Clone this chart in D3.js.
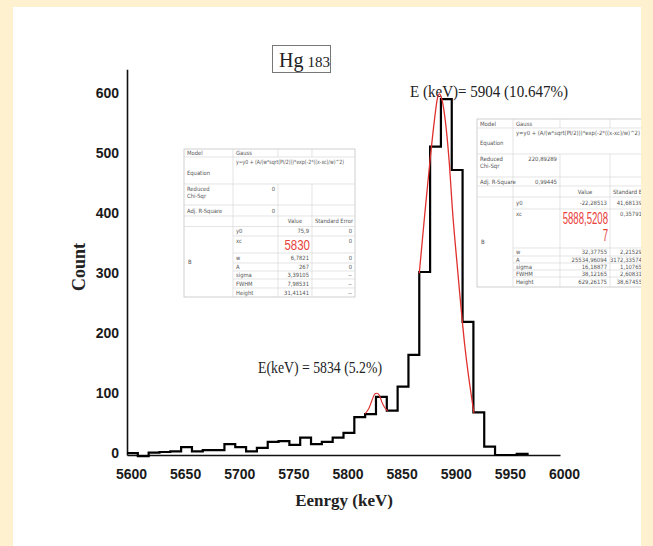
<!DOCTYPE html>
<html><head><meta charset="utf-8">
<script src="https://cdn.jsdelivr.net/npm/d3@7/dist/d3.min.js"></script>
<style>html,body{margin:0;padding:0;background:#fdf1cf;}svg{display:block}</style>
</head><body>
<svg id="c" width="653" height="546"></svg>
<script>
// ---------- data ----------
const binStarts = [5600,5610,5620,5630,5640,5650,5660,5670,5680,5690,5700,5710,5720,5730,5740,5750,5760,5770,5780,5790,5800,5810,5820,5830,5840,5850,5860,5870,5880,5890,5900,5910,5920,5930,5940,5950,5960];
const counts    = [3,-2,4,5,6,13,6,8,8,18,13,6,12,22,23,17,29,18,22,29,37,63,68,97,74,114,167,305,514,593,475,222,71,14,0,0,2];
const binWidth = 10;

const fitMainEnergy = [5870,5875,5880,5884,5886.5,5888.5,5891,5894,5897.5,5901,5905,5912,5920.5];
const fitMainCount  = [303,400,492,558,592,602,592,558,492,400,317,183,70];
const fitSmallEnergy = [5820,5823.5,5826.5,5829,5831,5833,5835.5,5838.5,5841];
const fitSmallCount  = [69,78,92,102,103,100,88,78,73];

const xTicks = [5600,5650,5700,5750,5800,5850,5900,5950,6000];
const yTicks = [0,100,200,300,400,500,600];

const titleMain = "Hg", titleNum = "183";
const xTitle = "Eenrgy (keV)", yTitle = "Count";
const peakLabelMain = "E (keV)= 5904 (10.647%)";
const peakLabelSmall = "E(keV) = 5834 (5.2%)";

const tableLabels = ["Model","Equation","Reduced\nChi-Sqr","Adj. R-Square"];
const modelName = "Gauss";
const equationText = "y=y0 + (A/(w*sqrt(PI/2)))*exp(-2*((x-xc)/w)^2)";
const headerCols = ["Value","Standard Error"];
const blockName = "B";
const paramNames = ["y0","xc","w","A","sigma","FWHM","Height"];
const leftStats = ["0","0"];
const leftValues = ["75,9","5830","6,7821","267","3,39105","7,98531","31,41141"];
const leftErrors = ["0","0","0","0","--","--","--"];
const rightStats = ["220,89289","0,99445"];
const rightValues = ["-22,28513","5888,5208\n7","32,37755","25534,96094","16,18877","38,12165","629,26175"];
const rightErrors = ["41,68139","0,35791","2,21529","3172,33574","1,10765","2,60831","38,67455"];

// ---------- layout ----------
const svg = d3.select("#c");
const SERIF = "'Liberation Serif','Times New Roman',serif";
const SANS = "'Liberation Sans',Arial,sans-serif";
const NARROW = "'Liberation Sans Narrow','DejaVu Sans Condensed','Liberation Sans',Arial,sans-serif";

svg.append("defs").append("clipPath").attr("id","panelClip")
  .append("rect").attr("x",13).attr("y",7).attr("width",628).attr("height",539);
svg.append("rect").attr("x",13).attr("y",7).attr("width",628).attr("height",539).attr("fill","#fff");
const root = svg.append("g").attr("clip-path","url(#panelClip)");

const x = d3.scaleLinear().domain([5600,6000]).range([127,560]);
const y = d3.scaleLinear().domain([0,643]).range([455,69.2]);

// annotations (under curves)
root.append("text").attr("x",410).attr("y",97).attr("font-family",SERIF).attr("font-size",16)
  .attr("textLength",158).attr("lengthAdjust","spacingAndGlyphs").attr("fill","#222").text(peakLabelMain);
root.append("text").attr("x",258).attr("y",373).attr("font-family",SERIF).attr("font-size",16)
  .attr("textLength",124).attr("lengthAdjust","spacingAndGlyphs").attr("fill","#222").text(peakLabelSmall);

// title box
const tg = root.append("g");
tg.append("rect").attr("x",272.5).attr("y",45.5).attr("width",58).attr("height",27).attr("fill","#fff").attr("stroke","#777").attr("stroke-width",1);
const tt = tg.append("text").attr("x",279).attr("y",67).attr("font-family",SERIF).attr("fill","#222");
tt.append("tspan").attr("font-size",20).text(titleMain);
tt.append("tspan").attr("font-size",15).attr("dx",4).text(titleNum);

// axes
const gx = root.append("g").attr("transform",`translate(0,${y(0)})`)
  .call(d3.axisBottom(x).tickValues(xTicks).tickSize(0).tickSizeOuter(0).tickPadding(14).tickFormat(d3.format("d")));
gx.select(".domain").attr("stroke","#111").attr("stroke-width",1.6);
gx.selectAll("text").attr("font-family",SANS).attr("font-weight","bold").attr("font-size",14).attr("fill","#1a1a1a").attr("dx",4);

const gy = root.append("g").attr("transform",`translate(${x(5600)},0)`)
  .call(d3.axisLeft(y).tickValues(yTicks).tickSize(0).tickSizeOuter(0).tickPadding(8).tickFormat(d3.format("d")));
gy.select(".domain").attr("stroke","#111").attr("stroke-width",1.6);
gy.selectAll("text").attr("font-family",SANS).attr("font-weight","bold").attr("font-size",14).attr("fill","#1a1a1a").attr("y",-2);

root.append("text").attr("transform","translate(85,267) rotate(-90)").attr("text-anchor","middle")
  .attr("font-family",SERIF).attr("font-weight","bold").attr("font-size",18).attr("fill","#222").text(yTitle);
root.append("text").attr("x",344).attr("y",506).attr("text-anchor","middle")
  .attr("font-family",SERIF).attr("font-weight","bold").attr("font-size",17).attr("fill","#222").text(xTitle);

// histogram
const histPts = binStarts.map((b,i)=>[b,counts[i]]);
histPts.push([binStarts[binStarts.length-1]+binWidth, 0]);
root.append("path").datum(histPts)
  .attr("d", d3.line().x(d=>x(d[0])).y(d=>y(d[1])).curve(d3.curveStepAfter))
  .attr("fill","none").attr("stroke","#000").attr("stroke-width",2.2).attr("stroke-linejoin","miter");

// fits
const fitLine = d3.line().x(d=>x(d[0])).y(d=>y(d[1])).curve(d3.curveMonotoneX);
root.append("path").datum(fitMainEnergy.map((e,i)=>[e,fitMainCount[i]]))
  .attr("d",fitLine).attr("fill","none").attr("stroke","#e0302c").attr("stroke-width",1.3);
root.append("path").datum(fitSmallEnergy.map((e,i)=>[e,fitSmallCount[i]]))
  .attr("d",fitLine).attr("fill","none").attr("stroke","#e0302c").attr("stroke-width",1.1);

// tables
function drawTable(L){
  const g = root.append("g").attr("font-family",NARROW);
  const [c0,c1,c2,c3,c4] = L.cols, R = L.rows, top = R[0], bot = R[R.length-1], fs = L.fs;
  g.append("rect").attr("x",c0).attr("y",top).attr("width",c4-c0).attr("height",bot-top)
    .attr("fill","#fff").attr("stroke","#c4c4c4").attr("stroke-width",0.8);
  const line=(x1,y1,x2,y2)=>g.append("line").attr("x1",x1).attr("y1",y1).attr("x2",x2).attr("y2",y2)
    .attr("stroke","#d8d8d8").attr("stroke-width",0.7);
  for(let i=1;i<R.length-1;i++) line(i>=6?c1:c0, R[i], c4, R[i]);
  line(c1,top,c1,bot);
  [c2,c3].forEach(c=>{ line(c,R[0],c,R[1]); line(c,R[2],c,bot); });
  const txt=(xx,yy,s,anchor)=>g.append("text").attr("x",xx).attr("y",yy).attr("text-anchor",anchor||"start")
    .attr("font-size",fs).attr("fill","#555").text(s);
  const mid=i=>(R[i]+R[i+1])/2 + fs*0.36;
  const topLine=i=>R[i]+fs+1.3;
  txt(c0+3, mid(0), tableLabels[0]); txt(c1+3, mid(0), modelName);
  txt(c0+3, mid(1)+2, tableLabels[1]);
  txt(c1+3, topLine(1), equationText).attr("textLength",L.eqLen).attr("lengthAdjust","spacingAndGlyphs");
  tableLabels[2].split("\n").forEach((s,k)=>txt(c0+3, topLine(2)+k*(fs+1), s));
  txt(c2-3, topLine(2), L.stats[0], "end");
  txt(c0+3, mid(3), tableLabels[3]); txt(c2-3, mid(3), L.stats[1], "end");
  txt((c2+c3)/2, mid(4), headerCols[0], "middle"); txt(c3+3, mid(4), headerCols[1]);
  txt(c0+4, (R[5]+bot)/2 + fs*0.36, blockName);
  paramNames.forEach((p,k)=>{
    const i = 5+k;
    const yy = (k===1) ? topLine(i) : mid(i);
    txt(c1+3, yy, p);
    txt(c4-3, yy, L.errors[k], "end");
    if(k===1){
      L.values[k].split("\n").forEach((s,j)=>{
        g.append("text").attr("x",0).attr("y",0).attr("text-anchor","end")
          .attr("transform",`translate(${c3-2},${L.bigBase[j]}) scale(1,${L.bigStretch})`)
          .attr("font-family",SANS).attr("font-size",L.bigFs).attr("fill","#e8403a").text(s);
      });
    } else {
      txt(c3-3, yy, L.values[k], "end");
    }
  });
}
drawTable({cols:[184,233,278,312,355], rows:[149,157,184,205,216,226.5,236,253,263,271,279,288,297],
  fs:5.8, eqLen:108, stats:leftStats, values:leftValues, errors:leftErrors, bigBase:[249.5], bigFs:11.5, bigStretch:1.35});
drawTable({cols:[477,513,560,610,645], rows:[119,128,154,177,186,197,209,248,256,263,270,277,287],
  fs:5.9, eqLen:124, stats:rightStats, values:rightValues, errors:rightErrors, bigBase:[223.5,240.5], bigFs:9.6, bigStretch:1.65});
</script>
</body></html>
